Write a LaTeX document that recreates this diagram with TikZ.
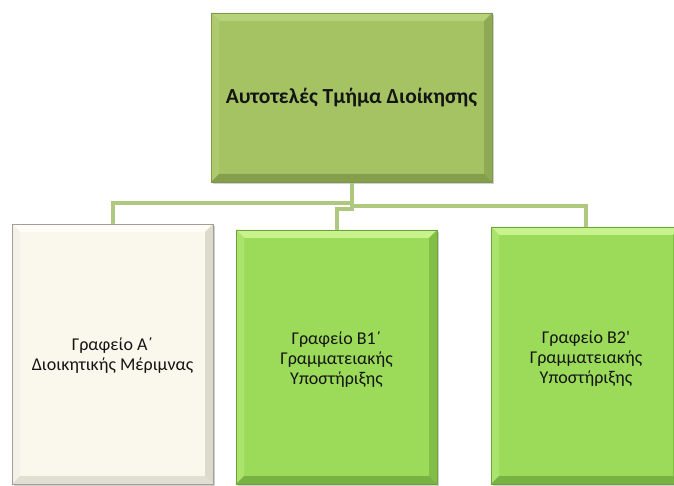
\documentclass[tikz,border=0pt]{standalone}
\usepackage{fontspec}
\setmainfont{Carlito}
\usetikzlibrary{calc,shadows}

% fills and bevel shades
\definecolor{olivefill}{RGB}{166,195,100}
\definecolor{olivetop}{RGB}{184,210,124}
\definecolor{oliveleft}{RGB}{174,202,110}
\definecolor{oliveright}{RGB}{143,170,84}
\definecolor{olivebottom}{RGB}{132,158,76}
\definecolor{oliveline}{RGB}{128,150,80}
\definecolor{greenfill}{RGB}{156,219,90}
\definecolor{greentop}{RGB}{200,242,140}
\definecolor{greenleft}{RGB}{170,228,108}
\definecolor{greenright}{RGB}{128,190,70}
\definecolor{greenbottom}{RGB}{120,178,66}
\definecolor{greenline}{RGB}{110,160,60}
\definecolor{creamfill}{RGB}{250,248,237}
\definecolor{creamtop}{RGB}{253,252,247}
\definecolor{creamleft}{RGB}{244,242,232}
\definecolor{creamright}{RGB}{220,217,205}
\definecolor{creambottom}{RGB}{226,223,210}
\definecolor{creamline}{RGB}{160,158,150}
\definecolor{connline}{RGB}{175,200,128}
\definecolor{inktext}{RGB}{20,20,20}

% bevelled edges: node, top, left, right, bottom colour, outline colour
\newcommand\bevelrim[6]{%
  \fill[#2] (#1.north west) -- (#1.north east) -- ($(#1.north east)+(-8,8)$) -- ($(#1.north west)+(8,8)$) -- cycle;
  \fill[#3] (#1.north west) -- ($(#1.north west)+(8,8)$) -- ($(#1.south west)+(8,-8)$) -- (#1.south west) -- cycle;
  \fill[#4] (#1.north east) -- ($(#1.north east)+(-8,8)$) -- ($(#1.south east)+(-8,-8)$) -- (#1.south east) -- cycle;
  \fill[#5] (#1.south west) -- ($(#1.south west)+(8,-8)$) -- ($(#1.south east)+(-8,-8)$) -- (#1.south east) -- cycle;
  \draw[#6, line width=0.6pt] (#1.north west) rectangle (#1.south east);
}

\tikzset{
  unitbox/.style={rectangle, outer sep=0pt, inner sep=0pt,
    drop shadow={shadow xshift=2pt, shadow yshift=-2pt, opacity=0.3, fill=black!60}},
  headbox/.style={unitbox, fill=olivefill},
  greenbox/.style={unitbox, fill=greenfill},
  creambox/.style={unitbox, fill=creamfill},
  headtext/.style={align=center, text=inktext, font=\fontsize{21.5}{25}\selectfont\bfseries},
  officetext/.style={align=center, text=inktext, font=\fontsize{18}{20}\selectfont},
  conn/.style={draw=connline, line width=4pt}
}

\begin{document}
\begin{tikzpicture}[x=1pt, y=-1pt]
\useasboundingbox (0,0) rectangle (674,486);

% offices
\node[creambox, minimum width=201pt, minimum height=260pt] (a) at (112.5,354) {};
\node[greenbox, minimum width=201pt, minimum height=254pt] (b1) at (336.5,357) {};
\node[greenbox, minimum width=190pt, minimum height=257pt] (b2) at (586,355.5) {};

% head unit
\node[headbox, minimum width=281pt, minimum height=169pt] (top) at (351.5,97.5) {};

% connectors from the head unit to the three offices
\draw[conn] (top.south) -- ++(0,21) -| (a.north);
\draw[conn] (top.south) -- ++(0,24) -| (b2.north);
\draw[conn] (top.south) -- ++(0,27) -| (b1.north);

% bevels and labels
\bevelrim{top}{olivetop}{oliveleft}{oliveright}{olivebottom}{oliveline}
\node[headtext] (toplabel) at (top.center) {Αυτοτελές Τμήμα Διοίκησης};

\bevelrim{a}{creamtop}{creamleft}{creamright}{creambottom}{creamline}
\node[officetext] (alabel) at ($(a.center)+(0,2)$) {Γραφείο Α΄\\Διοικητικής Μέριμνας};

\bevelrim{b1}{greentop}{greenleft}{greenright}{greenbottom}{greenline}
\node[officetext] (b1label) at ($(b1.center)+(0,3)$) {Γραφείο Β1΄\\Γραμματειακής\\Υποστήριξης};

\bevelrim{b2}{greentop}{greenleft}{greenright}{greenbottom}{greenline}
\node[officetext] (b2label) at ($(b2.center)+(0,3)$) {Γραφείο Β2\textquotesingle\\Γραμματειακής\\Υποστήριξης};
\end{tikzpicture}
\end{document}
